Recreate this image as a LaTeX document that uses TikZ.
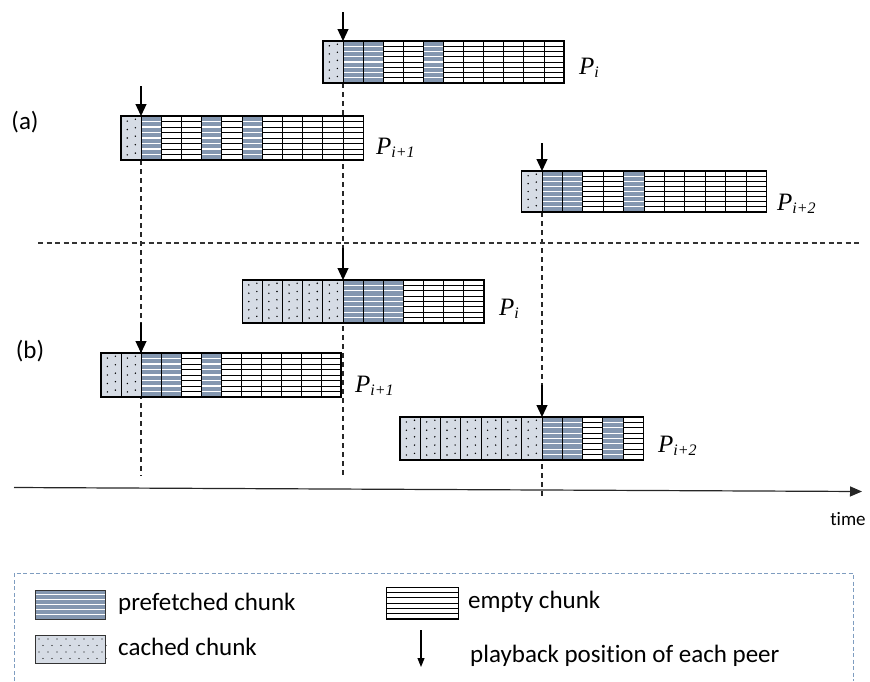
\documentclass[tikz,border=0pt]{standalone}
\usepackage{fontspec}
\setmainfont{Carlito}[Ligatures=NoCommon]
\newfontfamily\timesf{Liberation Serif}
\usetikzlibrary{arrows.meta}
\definecolor{prefblue}{HTML}{8497B0}
\definecolor{cachefill}{HTML}{D6DCE5}
\definecolor{legendline}{HTML}{7F9DC0}
% cell drawing macros: x y w h
\newcommand\chunkC[4]{%
  \fill[cachefill] (#1,#2) rectangle ++(#3,#4);
  \foreach \dr in {0,...,4}{%
    \fill ({#1+0.32*#3},{#2+(\dr+0.6)*#4/5.2}) circle (0.8);
    \fill ({#1+0.72*#3},{#2+(\dr+0.15)*#4/5.2+2}) circle (0.8);
  }%
  \draw[cellline] (#1,#2) rectangle ++(#3,#4);
}
\newcommand\chunkP[4]{%
  \fill[prefblue] (#1,#2) rectangle ++(#3,#4);
  \foreach \dr in {1,...,7}{%
    \draw[white, line width=1.1pt] (#1,{#2+\dr*#4/8}) -- ++(#3,0);
  }%
  \draw[cellline] (#1,#2) rectangle ++(#3,#4);
}
\newcommand\chunkE[4]{%
  \fill[white] (#1,#2) rectangle ++(#3,#4);
  \foreach \dr in {1,...,7}{%
    \draw[black, line width=0.9pt] (#1,{#2+\dr*#4/8}) -- ++(#3,0);
  }%
  \draw[cellline] (#1,#2) rectangle ++(#3,#4);
}
% row: name x y w h list
\newcommand\chunkrow[6]{%
  \foreach \ct [count=\ck from 0] in {#6}{%
    \csname chunk\ct\endcsname{#2+\ck*#4}{#3}{#4}{#5}%
  }%
  \draw[rowline] (#2,#3) rectangle ({#2+12*#4},{#3+#5});
  \coordinate (#1) at (#2,#3);
}
\begin{document}
\begin{tikzpicture}[x=1pt,y=-1pt,
  cellline/.style={line width=1pt, draw=black},
  rowline/.style={line width=1.4pt, draw=black},
  playarrow/.style={line width=1.2pt, -{Triangle[length=12pt,width=11pt]}},
  guide/.style={line width=1.3pt, draw=black!85, dash pattern=on 5pt off 4pt},
  plabel/.style={anchor=base west, inner sep=0pt, font=\timesf\itshape\fontsize{25}{28}\selectfont},
  caselabel/.style={inner sep=0pt, font=\fontsize{25}{30}\selectfont},
  legtext/.style={anchor=west, inner sep=0pt, font=\fontsize{25}{30}\selectfont}]
\useasboundingbox (0,0) rectangle (870,681);
\clip (0,0) rectangle (870,681);

% guide lines
\coordinate (g1t) at (343,83);  \coordinate (g1b) at (343,476);
\coordinate (g2t) at (141,160); \coordinate (g2b) at (141,476);
\coordinate (g3t) at (542,212); \coordinate (g3b) at (542,497);
\draw[guide] (g1t) -- (g1b);
\draw[guide] (g2t) -- (g2b);
\draw[guide] (g3t) -- (g3b);

% separator
\coordinate (sepl) at (38,243); \coordinate (sepr) at (862,243);
\draw[line width=1.1pt, draw=black!80, dash pattern=on 5pt off 3.5pt] (sepl) -- (sepr);

% (a)
\chunkrow{a1}{322.9}{41}{20.1}{42}{C,P,P,E,E,P,E,E,E,E,E,E}
\chunkrow{a2}{120.8}{116}{20.2}{44}{C,P,E,E,P,E,P,E,E,E,E,E}
\chunkrow{a3}{521.6}{171}{20.4}{41}{C,P,P,E,E,P,E,E,E,E,E,E}
% (b)
\chunkrow{b1}{242.35}{280}{20.13}{43}{C,C,C,C,C,P,P,P,E,E,E,E}
\chunkrow{b2}{101}{353}{20}{44}{C,C,P,P,E,P,E,E,E,E,E,E}
\chunkrow{b3}{399.9}{417}{20.3}{43}{C,C,C,C,C,C,C,P,P,E,P,E}

% playback arrows
\coordinate (a1s) at (343,12);  \coordinate (a1p) at (343,41);
\coordinate (a2s) at (141,86);  \coordinate (a2p) at (141,116);
\coordinate (a3s) at (542,143); \coordinate (a3p) at (542,171);
\coordinate (b1s) at (343,248); \coordinate (b1p) at (343,280);
\coordinate (b2s) at (141,323); \coordinate (b2p) at (141,353);
\coordinate (b3s) at (542,385); \coordinate (b3p) at (542,417);
\foreach \r in {a1,a2,a3,b1,b2,b3}{\draw[playarrow] (\r s) -- (\r p);}

% peer labels
\node[plabel] (la1) at (579,74) {P\raisebox{-3pt}{\fontsize{16}{18}\selectfont i}};
\node[plabel] (la2) at (376,154) {P\raisebox{-3pt}{\fontsize{16}{18}\selectfont i+1}};
\node[plabel] (la3) at (777,210) {P\raisebox{-3pt}{\fontsize{16}{18}\selectfont i+2}};
\node[plabel] (lb1) at (499,315) {P\raisebox{-3pt}{\fontsize{16}{18}\selectfont i}};
\node[plabel] (lb2) at (355,392) {P\raisebox{-3pt}{\fontsize{16}{18}\selectfont i+1}};
\node[plabel] (lb3) at (658,452) {P\raisebox{-3pt}{\fontsize{16}{18}\selectfont i+2}};

\node[caselabel] (casea) at (25,122) {(a)};
\node[caselabel] (caseb) at (30,351) {(b)};

% time axis
\coordinate (t0) at (14,487.5); \coordinate (t1) at (862,491.5);
\draw[line width=1.2pt, draw=black!85, -{Triangle[length=12pt,width=10pt]}] (t0) -- (t1);
\node[inner sep=0pt, font=\fontsize{19}{23}\selectfont] (time) at (848,519) {time};

% legend
\coordinate (lg1) at (14,681); \coordinate (lg2) at (14,573);
\coordinate (lg3) at (853,573); \coordinate (lg4) at (853,681);
\draw[legendline, line width=1pt, dash pattern=on 4pt off 2.5pt] (lg1) -- (lg2) -- (lg3) -- (lg4);

% prefetched swatch
\fill[prefblue] (35,590) rectangle (105,619);
\foreach \dr in {1,...,5}{\draw[white, line width=1.3pt] (35,{590+\dr*29/6}) -- (105,{590+\dr*29/6});}
\draw[line width=1pt, draw=black!80] (35,590) rectangle (105,619);
\node[legtext] (tpref) at (118,604) {prefetched chunk};

% cached swatch
\fill[cachefill] (35,635) rectangle (105,663);
\foreach \cx in {0,...,7}{\foreach \cy in {0,...,3}{
  \fill ({39+\cx*9+mod(\cy,2)*4},{639+\cy*6.5}) circle (0.6);}}
\draw[line width=1pt, draw=black!80] (35,635) rectangle (105,663);
\node[legtext] (tcache) at (118,647) {cached chunk};

% empty swatch
\fill[white] (386,587) rectangle (458,619);
\foreach \dr in {1,...,5}{\draw[black, line width=0.9pt] (386,{587+\dr*32/6}) -- (458,{587+\dr*32/6});}
\draw[line width=1pt] (386,587) rectangle (458,619);
\draw[line width=1.8pt] (386,619) -- (458,619);
\node[legtext] (tempty) at (468,602) {empty chunk};

% legend arrow
\coordinate (las) at (421,630); \coordinate (lap) at (421,667);
\draw[line width=1.1pt, -{Triangle[length=9pt,width=7pt]}] (las) -- (lap);
\node[legtext] (tplay) at (470,656) {playback position of each peer};
\end{tikzpicture}
\end{document}
